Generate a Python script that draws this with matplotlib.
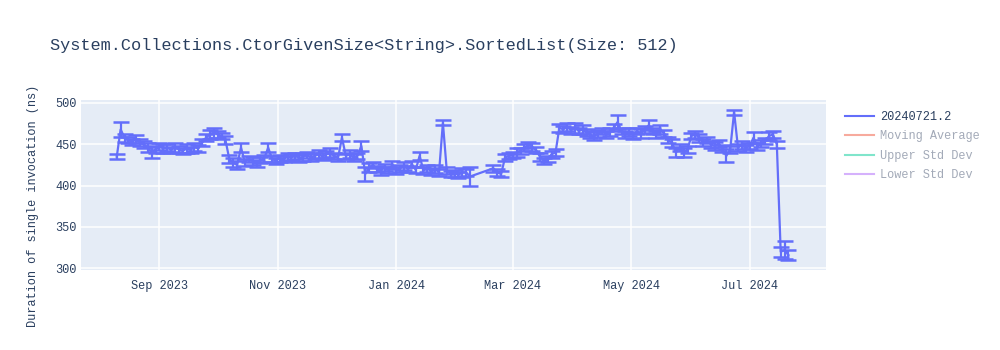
import pandas as pd
import matplotlib
matplotlib.use("Agg")
import matplotlib.pyplot as plt
import matplotlib.dates as mdates
from matplotlib.lines import Line2D

plt.rcParams["font.family"] = ["Liberation Mono", "DejaVu Sans Mono"]

# benchmark runs, every second day (gap in Feb 2024)
seg1_start, seg1_end = "2023-08-10", "2024-02-08"
seg2_start, seg2_end = "2024-02-20", "2024-07-21"

seg1_values = [
    435, 468, 458, 455, 453, 456, 452, 450, 446, 440, 444,
    447, 445, 446, 443, 446, 444, 442, 445, 443, 447, 445, 452, 458, 462, 464,
    462, 460, 455, 432, 428, 425, 446, 428, 432, 430, 427, 431, 433, 446, 432, 430,
    433, 432, 435, 434, 436, 433, 435, 437, 434, 436, 438, 435, 438, 440, 436,
    434, 458, 436, 438, 434, 436, 448, 414, 422, 425, 420, 418, 422, 419, 425,
    418, 421, 424, 420, 426, 419, 436, 418, 421, 417, 420, 416, 476, 418, 414, 415,
    413, 416, 416, 411,
]
seg1_errors = [
    3, 9, 5, 4, 4, 5, 4, 4, 5, 7, 4,
    4, 5, 4, 4, 5, 4, 4, 5, 4, 5, 4, 4, 4, 5, 6,
    4, 4, 5, 5, 6, 5, 5, 4, 4, 5, 4, 4, 4, 5, 4, 4,
    4, 4, 4, 4, 4, 4, 5, 4, 4, 4, 5, 4, 4, 5, 4,
    4, 4, 4, 5, 4, 4, 6, 9, 5, 4, 4, 5, 4, 4, 5,
    4, 4, 5, 4, 4, 4, 5, 4, 4, 4, 5, 4, 3, 4, 4, 4,
    4, 5, 4, 11,
]

seg2_values = [
    421, 416, 414, 434, 436,
    437, 440, 442, 446, 449, 447, 443, 435, 430, 432, 438, 440, 470, 468, 471, 467,
    470, 466, 468, 464, 462, 460, 463, 466, 462, 465, 470, 477, 466, 462, 465,
    461, 466, 463, 468, 473, 466, 462, 468, 463, 455, 452, 440, 446, 440, 444,
    460, 462, 458, 452, 455, 450, 448, 451, 445, 436, 444, 489, 446, 449, 445,
    448, 458, 447, 451, 454, 460, 462, 450, 320, 322, 316,
]
seg2_errors = [
    4, 4, 4, 4, 4,
    4, 5, 4, 4, 4, 5, 4, 5, 4, 4, 4, 4, 5, 4, 5, 4,
    6, 4, 5, 4, 4, 5, 4, 4, 4, 5, 4, 8, 4, 4, 5,
    4, 4, 5, 4, 6, 4, 4, 5, 4, 4, 5, 5, 4, 5, 4,
    4, 4, 5, 4, 4, 4, 5, 4, 4, 8, 4, 3, 4, 5, 4,
    4, 7, 4, 4, 4, 5, 4, 4, 6, 11, 6,
]

dates = list(pd.date_range(seg1_start, seg1_end, freq="2D")) + \
    list(pd.date_range(seg2_start, seg2_end, freq="2D"))
values = seg1_values + seg2_values
errors = seg1_errors + seg2_errors

title = "System.Collections.CtorGivenSize<String>.SortedList(Size: 512)"
ylabel = "Duration of single invocation (ns)"
legend_labels = ["20240721.2", "Moving Average", "Upper Std Dev", "Lower Std Dev"]
legend_colors = ["#636efa", "#f7aa9d", "#80e5cb", "#d5b1fc"]

fig = plt.figure(figsize=(10, 3.5), dpi=100)
ax = fig.add_axes([0.081, 0.2286, 0.745, 0.4857])
ax.set_facecolor("#e5ecf6")

ax.errorbar(dates, values, yerr=errors, color="#636efa", lw=1.6,
            elinewidth=1.6, capsize=6, capthick=1.8, zorder=3)

ax.set_ylim(297.9, 503.6)
ax.set_xlim(pd.Timestamp("2023-07-22 14:00"), pd.Timestamp("2024-08-09 08:00"))
ax.set_yticks([300, 350, 400, 450, 500])
ax.xaxis.set_major_locator(mdates.MonthLocator(bymonth=[1, 3, 5, 7, 9, 11]))
ax.xaxis.set_major_formatter(mdates.DateFormatter("%b %Y"))
ax.grid(True, color="white", lw=1.1, zorder=0)
ax.set_axisbelow(True)
for s in ax.spines.values():
    s.set_visible(False)
ax.tick_params(length=0, labelsize=8.6, labelcolor="#2a3f5f")
ax.tick_params(axis="x", pad=7)
ax.tick_params(axis="y", pad=3)

fig.text(0.05, 0.871, title, fontsize=12.2, color="#2a3f5f", ha="left", va="center")
fig.text(0.033, 0.411, ylabel, fontsize=8.6, color="#2a3f5f", rotation=90,
         ha="center", va="center")

handles = [Line2D([0], [0], color=c, lw=1.5) for c in legend_colors]
leg = fig.legend(handles, legend_labels, loc="upper left",
                 bbox_to_anchor=(0.845, 0.683), frameon=False, fontsize=8.6,
                 handlelength=2.4, handletextpad=0.5, labelspacing=0.62,
                 borderaxespad=0, borderpad=0)
for i, t in enumerate(leg.get_texts()):
    t.set_color("#2a3f5f" if i == 0 else "#a3aab8")

fig.savefig("out.png", dpi=100)
